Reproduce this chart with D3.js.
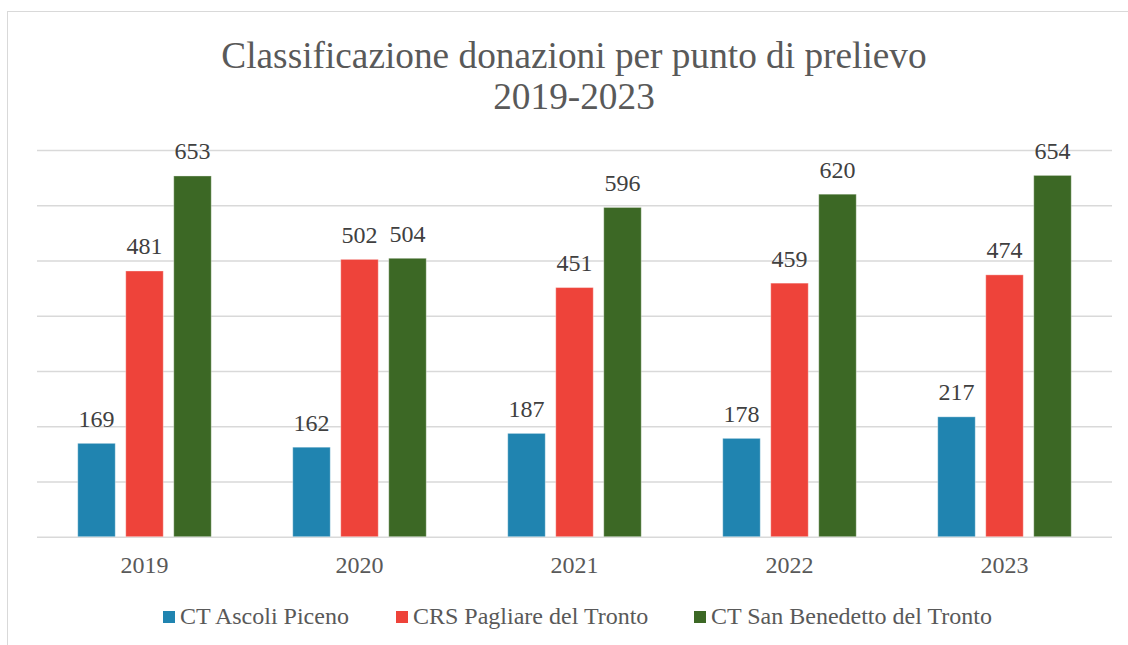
<!DOCTYPE html>
<html>
<head>
<meta charset="utf-8">
<script src="https://cdn.jsdelivr.net/npm/d3@7"></script>
<style>
  html, body { margin: 0; padding: 0; background: #fff; }
  svg { display: block; }
</style>
</head>
<body>
<svg id="chart" width="1128" height="645"></svg>
<script>
const years = ["2019", "2020", "2021", "2022", "2023"];
const seriesNames = ["CT Ascoli Piceno", "CRS Pagliare del Tronto", "CT San Benedetto del Tronto"];
const ascoli = [169, 162, 187, 178, 217];
const pagliare = [481, 502, 451, 459, 474];
const sanBenedetto = [653, 504, 596, 620, 654];
const gridTicks = [0, 100, 200, 300, 400, 500, 600, 700];
const titleLines = ["Classificazione donazioni per punto di prelievo", "2019-2023"];
const colors = ["#2084b0", "#ee433a", "#3c6825"];

(function () {
const FONT = "'Liberation Serif', Tinos, 'Times New Roman', 'DejaVu Serif', serif";
const seriesValues = [ascoli, pagliare, sanBenedetto];
const svg = d3.select("#chart").style("font-family", FONT);

// frame
svg.append("rect").attr("x", 7.5).attr("y", 11.5).attr("width", 1140).attr("height", 660)
  .attr("fill", "#fff").attr("stroke", "#d9d9d9").attr("stroke-width", 1);

const pLeft = 37, pRight = 1112, pTop = 150, pBottom = 536.7;
const x = d3.scaleBand().domain(years).range([pLeft, pRight]).paddingInner(0).paddingOuter(0);
const groupWidth = 133.5;
const xs = d3.scaleBand().domain(d3.range(3)).range([0, groupWidth]).paddingInner(0.21875).paddingOuter(0);
const y = d3.scaleLinear().domain([0, 700]).range([pBottom, pTop]);

// gridlines
const grid = svg.append("g").attr("transform", `translate(${pLeft},0)`)
  .call(d3.axisLeft(y).tickValues(gridTicks).tickSize(-(pRight - pLeft)).tickFormat(""));
grid.select(".domain").remove();
grid.selectAll("line").attr("stroke", "#d9d9d9").attr("stroke-width", 1.5);

// title
svg.append("text").attr("x", 574).attr("text-anchor", "middle")
  .style("font-family", FONT)
  .attr("font-size", 37.3).attr("fill", "#595959")
  .selectAll("tspan").data(titleLines).join("tspan")
  .attr("x", 574).attr("y", (d, i) => 68 + i * 41).text(d => d);

// bars
const groups = svg.append("g").selectAll("g").data(years).join("g")
  .attr("transform", d => `translate(${x(d) + (x.bandwidth() - groupWidth) / 2},0)`);

groups.each(function(yr, yi) {
  const g = d3.select(this);
  seriesValues.forEach((vals, si) => {
    g.append("rect")
      .attr("x", xs(si)).attr("width", xs.bandwidth())
      .attr("y", y(vals[yi])).attr("height", y(0) - y(vals[yi]))
      .attr("fill", colors[si])
      .attr("stroke", "rgba(255,255,255,0.35)").attr("stroke-width", 1);
    g.append("text")
      .attr("x", xs(si) + xs.bandwidth() / 2)
      .attr("y", y(vals[yi]) - 16.5)
      .attr("text-anchor", "middle")
      .style("font-family", FONT)
      .attr("font-size", 24).attr("fill", "#404040")
      .text(vals[yi]);
  });
});

// x axis labels
const xAxis = svg.append("g").attr("transform", `translate(0,${pBottom})`)
  .call(d3.axisBottom(x).tickSize(0).tickPadding(0));
xAxis.select(".domain").remove();
xAxis.attr("font-family", null);
xAxis.selectAll("text").attr("font-size", 24).attr("fill", "#595959")
  .attr("dy", 0).attr("y", 36.5)
  .style("font-family", FONT);

// legend
const legendX = [163, 396, 694];
const legend = svg.append("g").selectAll("g").data(seriesNames).join("g")
  .attr("transform", (d, i) => `translate(${legendX[i]},611)`);
legend.append("rect").attr("width", 12).attr("height", 12).attr("fill", (d, i) => colors[i]);
legend.append("text").attr("x", 17).attr("y", 12.5).style("font-family", FONT)
  .attr("font-size", 24).attr("fill", "#595959").text(d => d);
})();
</script>
</body>
</html>
